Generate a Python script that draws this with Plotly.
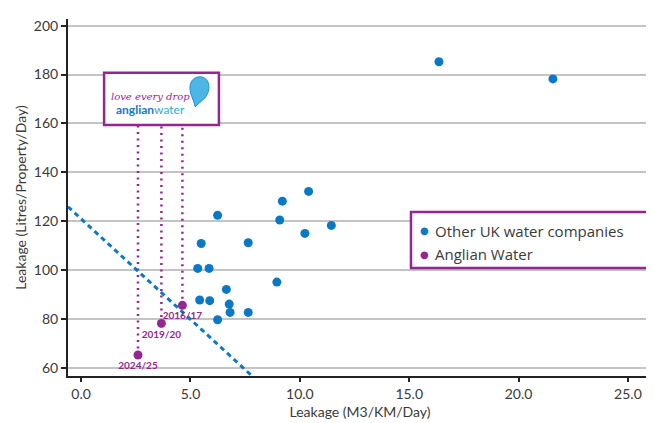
import plotly.graph_objects as go

# ---- data ----
other_x = [16.36, 21.57, 6.24, 9.20, 10.40, 9.08, 11.44, 10.23, 5.49, 7.64, 5.33, 5.85,
           8.95, 6.64, 5.42, 5.88, 6.77, 6.81, 7.64, 6.24]
other_y = [185.2, 178.2, 122.4, 128.2, 132.2, 120.5, 118.3, 115.0, 110.9, 111.2, 100.7, 100.7,
           95.1, 92.1, 87.8, 87.5, 86.1, 82.7, 82.7, 79.7]
aw_x = [4.63, 3.67, 2.60]
aw_y = [85.6, 78.2, 65.3]
aw_labels = ["2016/17", "2019/20", "2024/25"]
frontier_x = [-0.6, 8.4]
frontier_y = [125.9, 51.9]
x_ticks = [0, 5, 10, 15, 20, 25]
x_tick_text = ["0.0", "5.0", "10.0", "15.0", "20.0", "25.0"]
y_ticks = [60, 80, 100, 120, 140, 160, 180, 200]
series_names = ["Other UK water companies", "Anglian Water"]
logo_box = dict(x0=1.05, x1=6.30, y0=159.4, y1=180.7)

BLUE = "#0a78c4"
PURPLE = "#93278f"
TXT = "#3a3a3a"
FONT = "Lato"

# pixel scale helpers for the logo decoration
PX_X = 21.88
PX_Y = 2.447

fig = go.Figure()

# dotted lines from AW points up to logo
for xv, yv in zip(aw_x, aw_y):
    fig.add_trace(go.Scatter(x=[xv, xv], y=[yv, logo_box["y0"]], mode="lines",
                             line=dict(color=PURPLE, width=2.5, dash="2px,4.5px"),
                             showlegend=False, hoverinfo="skip", cliponaxis=False))

# frontier dashed line
fig.add_trace(go.Scatter(x=frontier_x, y=frontier_y, mode="lines",
                         line=dict(color=BLUE, width=3, dash="5px,4px"),
                         showlegend=False, hoverinfo="skip"))

fig.add_trace(go.Scatter(x=other_x, y=other_y, mode="markers", name=series_names[0],
                         marker=dict(color=BLUE, size=9), showlegend=False))
fig.add_trace(go.Scatter(x=aw_x, y=aw_y, mode="markers+text", text=aw_labels,
                         name=series_names[1], textposition="bottom center",
                         textfont=dict(color=PURPLE, size=10, family=FONT, weight="bold"),
                         marker=dict(color=PURPLE, size=9), showlegend=False,
                         cliponaxis=False))

# custom legend box (paper coordinates)
fig.add_shape(type="rect", xref="paper", yref="paper", x0=0.5873, x1=0.9932,
              y0=0.3025, y1=0.4594, line=dict(color=PURPLE, width=2.5),
              fillcolor="white", layer="above")
for name, col, yy in zip(series_names, [BLUE, PURPLE], [0.4062, 0.3417]):
    fig.add_annotation(xref="paper", yref="paper", x=0.6113, y=yy, text="●",
                       showarrow=False, font=dict(size=10, color=col, family="DejaVu Sans"),
                       xanchor="center", yanchor="middle")
    fig.add_annotation(xref="paper", yref="paper", x=0.6250, y=yy, text=name,
                       showarrow=False, font=dict(size=15, color=TXT, family="Open Sans"),
                       xanchor="left", yanchor="middle")

# logo box
fig.add_shape(type="rect", xref="x", yref="y", **logo_box,
              line=dict(color=PURPLE, width=2.5), fillcolor="white", layer="above")

# drop icon
cx = logo_box["x0"] + (199 - 104) / PX_X
cy = logo_box["y1"] - (92 - 73) / PX_Y
pts = [("M", [(1, -15)]), ("C", [(10, -15), (13, -3), (6, 6)]), ("L", [(-4, 15)]),
       ("C", [(-5, 8), (-10, 2), (-9, -6)]), ("C", [(-8, -12), (-4, -15), (1, -15)])]
path = ""
for cmd, ps in pts:
    path += cmd + " " + " ".join(f"{cx + dx / PX_X:.4f},{cy - dy / PX_Y:.4f}" for dx, dy in ps) + " "
path += "Z"
fig.add_shape(type="path", xref="x", yref="y", path=path, fillcolor="#4db6e6",
              line=dict(color="#1d8fd0", width=1), layer="above")

fig.add_annotation(xref="x", yref="y", x=logo_box["x0"] + (150 - 104) / PX_X,
                   y=logo_box["y1"] - (97 - 73) / PX_Y,
                   text="<i>love every drop</i>", showarrow=False,
                   font=dict(family="DejaVu Serif", size=10, color=PURPLE))
fig.add_annotation(xref="x", yref="y", x=logo_box["x0"] + (150 - 104) / PX_X,
                   y=logo_box["y1"] - (110 - 73) / PX_Y,
                   text="<b>anglian</b><span style='color:#38a6dc'>water</span>",
                   showarrow=False, font=dict(family=FONT, size=12, color="#1a78c2"))

# page body has an 8px default margin, so the figure is sized 8px smaller
fig.update_layout(
    width=646, height=415,
    margin=dict(l=60, r=2, t=11, b=47),
    paper_bgcolor="white", plot_bgcolor="white",
    font=dict(family=FONT, color=TXT, size=14),
    showlegend=False,
    xaxis=dict(range=[-0.6, 26.1], tickvals=x_ticks, ticktext=x_tick_text,
               showgrid=False, zeroline=False, showline=True, linecolor="#222",
               linewidth=2, ticks="outside", ticklen=4, tickwidth=2, tickcolor="#222",
               title=dict(text="Leakage (M3/KM/Day)", standoff=6, font=dict(size=14)),
               tickfont=dict(size=14, color=TXT), automargin=False),
    yaxis=dict(range=[56.7, 202.7], tickvals=y_ticks, showgrid=True, gridcolor="#c4c4c4",
               gridwidth=1.5, zeroline=False, showline=True, linecolor="#222", linewidth=2,
               ticks="outside", ticklen=5, tickwidth=2, tickcolor="#222",
               title=dict(text="Leakage (Litres/Property/Day)", standoff=4, font=dict(size=14)),
               tickfont=dict(size=14, color=TXT), automargin=False),
)

fig.write_html("out.html")
